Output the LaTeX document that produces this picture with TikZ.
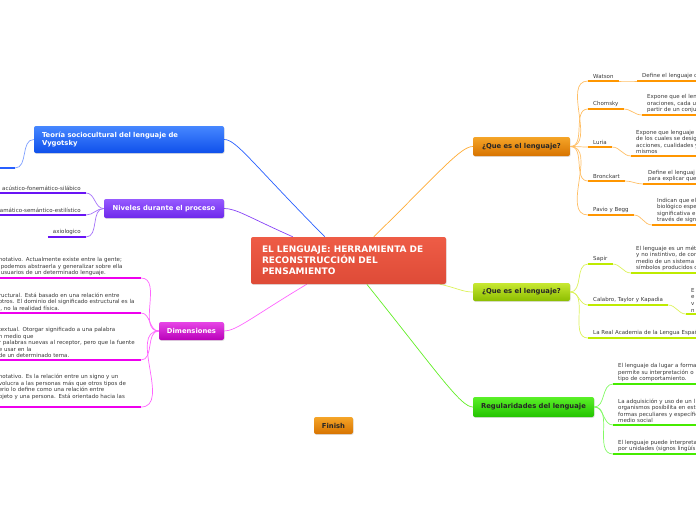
\documentclass[tikz,border=0pt]{standalone}
\usepackage{fontspec}
\setmainfont{DejaVu Sans}
\definecolor{mapBlue}{RGB}{40, 95, 255}
\definecolor{mapBlueTop}{RGB}{70, 135, 255}
\definecolor{mapBlueBot}{RGB}{15, 80, 235}
\definecolor{mapPurple}{RGB}{105, 20, 245}
\definecolor{mapPurpleTop}{RGB}{150, 90, 255}
\definecolor{mapPurpleBot}{RGB}{110, 40, 235}
\definecolor{mapMagenta}{RGB}{238, 0, 238}
\definecolor{mapMagentaLine}{RGB}{255, 100, 255}
\definecolor{mapMagentaTop}{RGB}{230, 70, 230}
\definecolor{mapMagentaBot}{RGB}{185, 0, 185}
\definecolor{mapOrange}{RGB}{255, 150, 0}
\definecolor{mapOrangeLine}{RGB}{255, 190, 100}
\definecolor{mapOrangeTop}{RGB}{245, 165, 40}
\definecolor{mapOrangeBot}{RGB}{215, 115, 0}
\definecolor{mapLime}{RGB}{190, 235, 0}
\definecolor{mapLimeLine}{RGB}{220, 242, 90}
\definecolor{mapLimeTop}{RGB}{200, 232, 50}
\definecolor{mapLimeBot}{RGB}{140, 190, 0}
\definecolor{mapGreen}{RGB}{70, 235, 0}
\definecolor{mapGreenLine}{RGB}{130, 250, 100}
\definecolor{mapGreenTop}{RGB}{90, 240, 40}
\definecolor{mapGreenBot}{RGB}{35, 195, 0}
\definecolor{mapRedTop}{RGB}{238, 92, 70}
\definecolor{mapRedBot}{RGB}{222, 75, 55}
\usetikzlibrary{positioning, calc, backgrounds, shadows}

\begin{document}
\begin{tikzpicture}[
    x=1pt, y=-1pt,
    box/.style={rounded corners=2pt, inner sep=0pt, align=center,
      font=\fontsize{6.8}{8}\selectfont\bfseries,
      drop shadow={opacity=0.25, shadow xshift=0.6pt, shadow yshift=-0.9pt}},
    boxWhite/.style={box, text=white},
    boxDark/.style={box, text=black!85},
    leafText/.style={font=\fontsize{5.5}{6.6}\selectfont, text=black!78,
      align=left, inner xsep=5pt, inner ysep=1.8pt},
    link/.style={line width=0.7pt},
    ul/.style={line width=2.8pt},
  ]

  \useasboundingbox (0,0) rectangle (696,520);

  % Central topic
  \node[boxWhite, font=\fontsize{9}{11}\selectfont\bfseries,
        top color=mapRedTop, bottom color=mapRedBot,
        minimum width=195pt, minimum height=47pt, text width=173pt, align=left]
        (root) at (348.5,260.5)
        {EL LENGUAJE: HERRAMIENTA DE\\RECONSTRUCCIÓN DEL\\PENSAMIENTO};

  % Main topics
  \node[boxWhite, top color=mapBlueTop, bottom color=mapBlueBot,
        minimum width=190pt, minimum height=27pt, text width=174pt, align=left]
        (teoria) at (129,139.5) {Teoría sociocultural del lenguaje de\\Vygotsky};
  \node[boxWhite, top color=mapPurpleTop, bottom color=mapPurpleBot,
        minimum width=120pt, minimum height=19pt]
        (niveles) at (164,208.5) {Niveles durante el proceso};
  \node[boxWhite, top color=mapMagentaTop, bottom color=mapMagentaBot,
        minimum width=65pt, minimum height=18pt]
        (dimensiones) at (191.5,331) {Dimensiones};
  \node[boxDark, top color=mapOrangeTop, bottom color=mapOrangeBot,
        minimum width=97pt, minimum height=19pt]
        (queEs) at (521.5,146.5) {¿Que es el lenguaje?};
  \node[boxDark, top color=mapLimeTop, bottom color=mapLimeBot,
        minimum width=97pt, minimum height=18pt]
        (queEsDos) at (521.5,292) {¿Que es el lenguaje?};
  \node[boxDark, top color=mapGreenTop, bottom color=mapGreenBot,
        minimum width=121pt, minimum height=20pt]
        (regular) at (533.5,407) {Regularidades del lenguaje};
  \node[boxDark, top color=mapOrangeTop, bottom color=mapOrangeBot,
        minimum width=39pt, minimum height=17pt]
        (finish) at (333.5,425.5) {Finish};

  % Vygotsky leaf (text outside the page)
  \coordinate (vygLeaf) at (15,168);

  % Niveles leaves
  \node[leafText, anchor=south east] (acustico) at (86,193) {acústico-fonemático-silábico};
  \node[leafText, anchor=south east] (gramatico) at (86,215) {amático-semántico-estilístico};
  \node[leafText, anchor=south east] (axiologico) at (86,237) {axiologico};

  % Dimensiones leaves
  \node[leafText, anchor=south east, text width=137pt] (dimUno) at (141,278)
    {notativo. Actualmente existe entre la gente;\\\hspace*{2pt}podemos abstraerla y generalizar sobre ella\\\hspace*{2pt}usuarios de un determinado lenguaje.};
  \node[leafText, anchor=south east, text width=137pt] (dimDos) at (141,313)
    {ructural. Está basado en una relación entre\\otros. El dominio del significado estructural es la\\l, no la realidad física.};
  \node[leafText, anchor=south east, text width=137pt] (dimTres) at (141,360)
    {textual. Otorgar significado a una palabra\\n medio que\\r palabras nuevas al receptor, pero que la fuente\\e usar en la\\de un determinado tema.};
  \node[leafText, anchor=south east, text width=137pt] (dimCuatro) at (141,407)
    {notativo. Es la relación entre un signo y un\\volucra a las personas más que otros tipos de\\erio lo define como una relación entre\\bjeto y una persona. Está orientado hacia las\\\mbox{}};

  % Que es el lenguaje (autores)
  \node[leafText, anchor=south west] (watson) at (588,81) {Watson};
  \node[leafText, anchor=south west, text width=70pt] (watsonDef) at (637,81) {Define el lenguaje c};
  \node[leafText, anchor=south west] (chomsky) at (588,109) {Chomsky};
  \node[leafText, anchor=south west, text width=60pt] (chomskyDef) at (642,115)
    {Expone que el len\\oraciones, cada u\\partir de un conju};
  \node[leafText, anchor=south west] (luria) at (588,147) {Luria};
  \node[leafText, anchor=south west, text width=70pt] (luriaDef) at (631,156)
    {Expone que lenguaje e\\de los cuales se desig\\acciones, cualidades y\\mismos};
  \node[leafText, anchor=south west] (bronckart) at (588,181) {Bronckart};
  \node[leafText, anchor=south west, text width=60pt] (bronckartDef) at (643,184)
    {Define el lenguaj\\para explicar que};
  \node[leafText, anchor=south west] (pavio) at (588,215) {Pavio y Begg};
  \node[leafText, anchor=south west, text width=50pt] (pavioDef) at (652,225)
    {Indican que el\\biológico espe\\significativa e\\través de sign};

  % Que es el lenguaje (definiciones)
  \node[leafText, anchor=south west] (sapir) at (588,264) {Sapir};
  \node[leafText, anchor=south west, text width=70pt] (sapirDef) at (631,273)
    {El lenguaje es un mét\\y no instintivo, de con\\medio de un sistema\\símbolos producidos d};
  \node[leafText, anchor=south west] (calabro) at (588,305) {Calabro, Taylor y Kapadia};
  \node[leafText, anchor=south west, text width=20pt] (calabroDef) at (686,314)
    {E\\e\\v\\n};
  \node[leafText, anchor=south west, text width=120pt] (realAcademia) at (588,338)
    {La Real Academia de la Lengua Españ};

  % Regularidades leaves
  \node[leafText, anchor=south west, text width=90pt] (regUno) at (613,384)
    {El lenguaje da lugar a forma\\permite su interpretación o\\tipo de comportamiento.};
  \node[leafText, anchor=south west, text width=90pt] (regDos) at (613,425)
    {La adquisición y uso de un l\\organismos posibilita en est\\formas peculiares y específic\\medio social};
  \node[leafText, anchor=south west, text width=90pt] (regTres) at (613,454)
    {El lenguaje puede interpreta\\por unidades (signos lingüís};

  % Links
  \begin{scope}[on background layer]
    \draw[link, mapBlue] (teoria.east) .. controls +(12,0) and +(-74,-75) .. ($(root.north west)+(74,0)$);
    \draw[link, mapPurple!80] (niveles.east) .. controls +(12,0) and +(-45,-20) .. ($(root.north west)+(42,0)$);
    \draw[link, mapMagentaLine] (dimensiones.east) .. controls +(12,0) and +(-55,33) .. ($(root.south west)+(56,0)$);
    \draw[link, mapOrange!80] (queEs.west) .. controls +(-12,0) and +(67,-66) .. ($(root.north west)+(123,0)$);
    \draw[link, mapLimeLine] (queEsDos.west) .. controls +(-10,0) and +(18,4) .. ($(root.south west)+(189,0)$);
    \draw[link, mapGreen!85] (regular.west) .. controls +(-12,0) and +(72,90) .. ($(root.south west)+(116,0)$);
  \end{scope}

  \draw[link, mapBlue!60] (teoria.west) to[out=180, in=0] (vygLeaf);
  \foreach \n in {acustico, gramatico, axiologico}
    \draw[link, mapPurple!60] (niveles.west) to[out=180, in=0] (\n.south east);
  \foreach \n in {dimUno, dimDos, dimTres, dimCuatro}
    \draw[link, mapMagentaLine] (dimensiones.west) to[out=180, in=0] (\n.south east);
  \foreach \n in {watson, chomsky, luria, bronckart, pavio}
    \draw[link, mapOrangeLine] (queEs.east) to[out=0, in=180] (\n.south west);
  \foreach \n in {watson, chomsky, luria, bronckart, pavio}
    \draw[link, mapOrangeLine] (\n.south east) to[out=0, in=180] (\n Def.south west);
  \foreach \n in {sapir, calabro, realAcademia}
    \draw[link, mapLimeLine] (queEsDos.east) to[out=0, in=180] (\n.south west);
  \draw[link, mapLimeLine] (sapir.south east) to[out=0, in=180] (sapirDef.south west);
  \draw[link, mapLimeLine] (calabro.south east) to[out=0, in=180] (calabroDef.south west);
  \foreach \n in {regUno, regDos, regTres}
    \draw[link, mapGreenLine] (regular.east) to[out=0, in=180] (\n.south west);

  % Underlines
  \draw[ul, mapBlue] (vygLeaf) -- ++(-30,0);
  \foreach \n in {acustico, gramatico, axiologico}
    \draw[ul, mapPurple] (\n.south west) -- (\n.south east);
  \foreach \n in {dimUno, dimDos, dimTres, dimCuatro}
    \draw[ul, mapMagenta] (\n.south west) -- (\n.south east);
  \foreach \n in {watson, watsonDef, chomsky, chomskyDef, luria, luriaDef, bronckart, bronckartDef, pavio, pavioDef}
    \draw[ul, mapOrange] (\n.south west) -- (\n.south east);
  \foreach \n in {sapir, sapirDef, calabro, calabroDef, realAcademia}
    \draw[ul, mapLime] (\n.south west) -- (\n.south east);
  \foreach \n in {regUno, regDos, regTres}
    \draw[ul, mapGreen] (\n.south west) -- (\n.south east);
\end{tikzpicture}
\end{document}
